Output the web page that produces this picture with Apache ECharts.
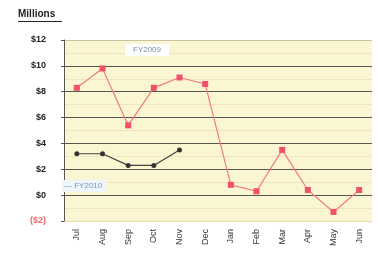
<!DOCTYPE html>
<html>
<head>
<meta charset="utf-8">
<script src="https://cdn.jsdelivr.net/npm/echarts@6/dist/echarts.min.js"></script>
<style>
  html, body { margin: 0; padding: 0; background: #fff; }
  #chart { width: 378px; height: 260px; }
</style>
</head>
<body>
<div id="chart"></div>
<script>
// 月份（财年从7月开始）
const months = ['Jul', 'Aug', 'Sep', 'Oct', 'Nov', 'Dec', 'Jan', 'Feb', 'Mar', 'Apr', 'May', 'Jun'];
// FY2009 月度数值（百万）
const fy2009 = [8.3, 9.8, 5.4, 8.3, 9.1, 8.6, 0.8, 0.3, 3.5, 0.4, -1.3, 0.4];
// FY2010 月度数值（只到11月）
const fy2010 = [3.2, 3.2, 2.3, 2.3, 3.5];
// y轴刻度文字
const yTicks = { '-2': '($2)', '0': '$0', '2': '$2', '4': '$4', '6': '$6', '8': '$8', '10': '$10', '12': '$12' };

const myChart = echarts.init(document.getElementById('chart'));

const option = {
  animation: false,
  grid: {
    left: 64,
    right: 6,
    top: 40,
    bottom: 39,
    show: true,
    backgroundColor: '#fbf6d2',
    borderWidth: 0
  },
  xAxis: {
    type: 'category',
    data: months,
    boundaryGap: true,
    axisLine: { show: false },
    axisTick: { show: false },
    axisLabel: {
      rotate: 90,
      fontSize: 9,
      color: '#333',
      fontFamily: 'Liberation Sans',
      margin: 8,
      interval: 0
    },
    splitLine: { show: false }
  },
  yAxis: {
    type: 'value',
    min: -2,
    max: 12,
    interval: 2,
    axisLine: { show: true, lineStyle: { color: '#555', width: 1 } },
    axisTick: { show: true, length: 3, lineStyle: { color: '#555' } },
    axisLabel: {
      margin: 18,
      fontSize: 9,
      fontWeight: 'bold',
      fontFamily: 'Liberation Sans',
      formatter: v => yTicks[String(v)],
      color: v => (v < 0 ? '#f06a6a' : '#222')
    },
    splitLine: {
      show: true,
      // 上下两条边线浅一点
      lineStyle: { color: ['#e6dcb0', '#555', '#555', '#555', '#555', '#555', '#555', '#c8c0a0'], width: 1.2 }
    },
    minorTick: { show: false, splitNumber: 2 },
    minorSplitLine: { show: true, lineStyle: { color: '#eee5bc', width: 1 } }
  },
  series: [
    {
      name: 'FY2009',
      type: 'line',
      data: fy2009,
      symbol: 'rect',
      symbolSize: 6,
      itemStyle: { color: '#f0506a' },
      lineStyle: { color: '#f27a80', width: 1.2 },
      z: 3
    },
    {
      name: 'FY2010',
      type: 'line',
      data: fy2010,
      symbol: 'circle',
      symbolSize: 5,
      itemStyle: { color: '#333' },
      lineStyle: { color: '#444', width: 1.2 },
      z: 4
    }
  ],
  graphic: [
    {
      type: 'text',
      left: 18,
      top: 9,
      style: { text: 'Millions', fontSize: 10, fontWeight: 'bold', fill: '#222', fontFamily: 'Liberation Sans' }
    },
    {
      type: 'line',
      shape: { x1: 18, y1: 21.5, x2: 62, y2: 21.5 },
      style: { stroke: '#222', lineWidth: 1 }
    },
    {
      type: 'text',
      left: 125,
      top: 44,
      z: 10,
      style: {
        text: 'FY2009', fontSize: 8, fill: '#7890a8', fontFamily: 'Liberation Sans',
        backgroundColor: '#fff', padding: [2, 8, 2, 8]
      }
    },
    {
      type: 'text',
      left: 62,
      top: 180,
      z: 10,
      style: {
        text: '— FY2010', fontSize: 8, fill: '#6a9ac0', fontFamily: 'Liberation Sans',
        backgroundColor: '#eef6fa', padding: [2, 4, 2, 2]
      }
    }
  ]
};

myChart.setOption(option);
</script>
</body>
</html>
